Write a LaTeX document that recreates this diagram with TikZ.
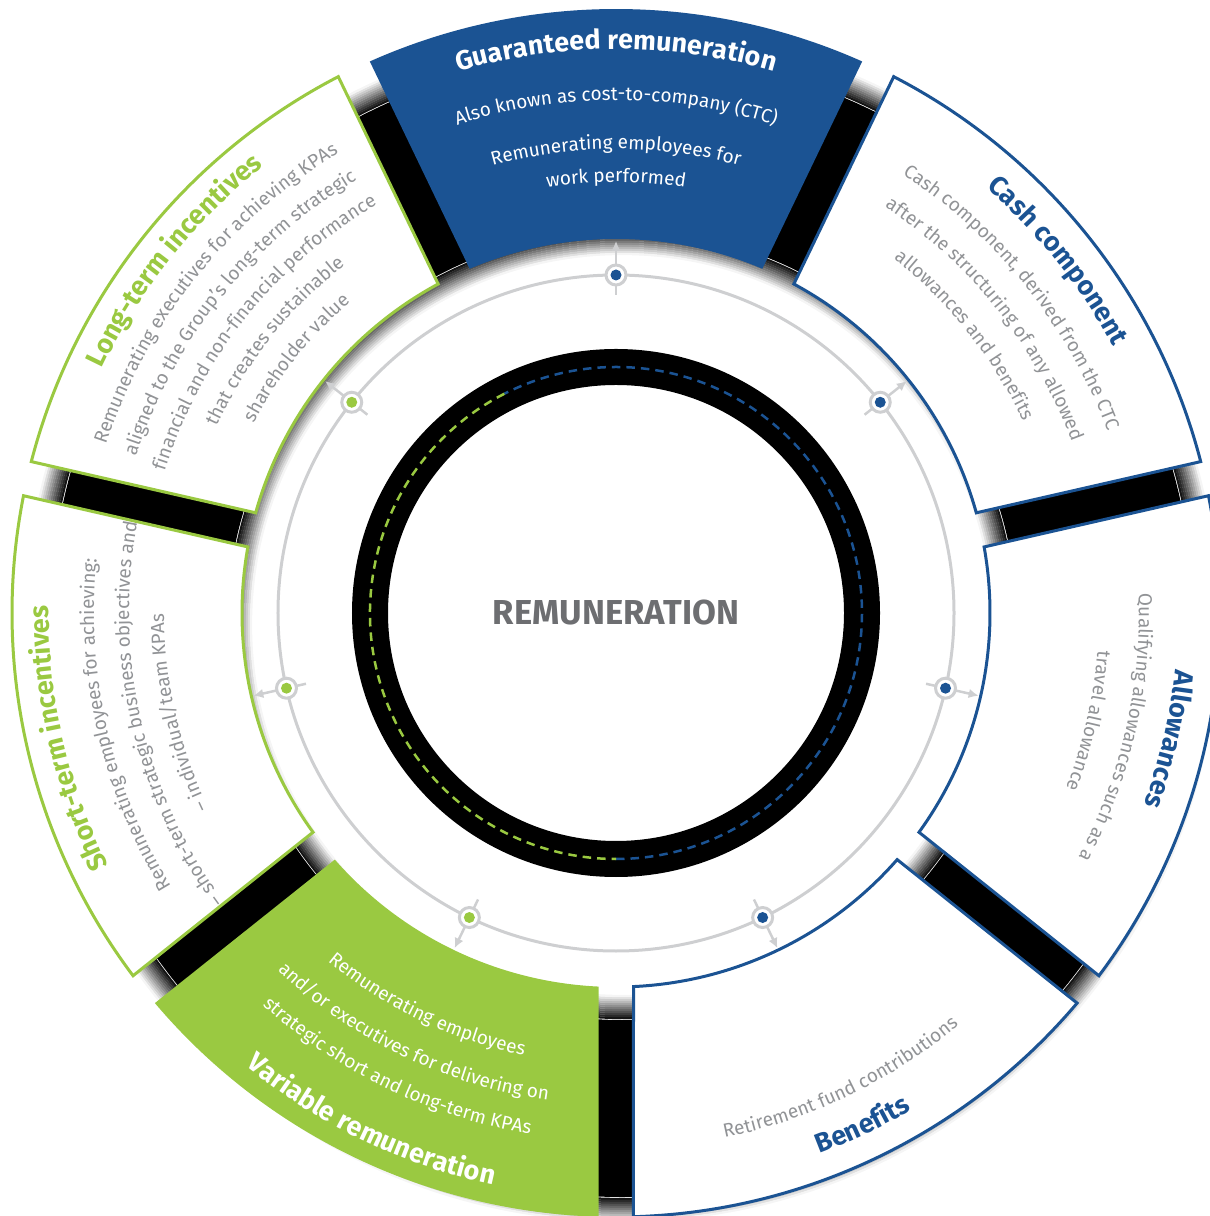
\documentclass[tikz,border=0pt]{standalone}
\usepackage{fontspec}
\setmainfont{Fira Sans}
\IfFontExistsTF{FiraSans-Light.otf}{\newfontfamily\lightfam{FiraSans-Light.otf}}{\newfontfamily\lightfam{Fira Sans}}
\usetikzlibrary{decorations.text, arrows.meta}

\definecolor{remblue}{RGB}{27,83,147}
\definecolor{remgreen}{RGB}{154,201,65}
\definecolor{remgray}{RGB}{145,147,150}
\definecolor{ringgray}{RGB}{206,207,209}
\definecolor{hubgray}{RGB}{109,110,113}

% text formats for the curved lines
\newcommand\wtitle{\fontsize{15.3pt}{18pt}\selectfont\bfseries\color{white}}
\newcommand\wbody{\fontsize{10.8pt}{13pt}\selectfont\color{white}}
\newcommand\btitle{\fontsize{15.3pt}{18pt}\selectfont\bfseries\color{remblue}}
\newcommand\gtitle{\fontsize{15.3pt}{18pt}\selectfont\bfseries\color{remgreen}}
\newcommand\gbody{\lightfam\fontsize{10.8pt}{13pt}\selectfont\color{remgray}}

% text on an arc: centre angle, radius, format, text
\newcommand\cwline[4]{\path[decorate, decoration={text along path, text align=center, text={|#3|#4}}] ({#1+30}:#2) arc[start angle={#1+30}, end angle={#1-30}, radius=#2];}
\newcommand\ccwline[4]{\path[decorate, decoration={text along path, text align=center, text={|#3|#4}}] ({#1-30}:#2) arc[start angle={#1-30}, end angle={#1+30}, radius=#2];}

\tikzset{
  wedge/.style={insert path={({#1+24.054}:604) arc[start angle={#1+24.054}, end angle={#1-24.054}, radius=604] -- ({#1-23.032}:374) arc[start angle={#1-23.032}, end angle={#1+23.032}, radius=374] -- cycle}},
  wedgeline/.style={line width=0.6mm, fill=white},
  marker/.style={circle, draw=ringgray, fill=white, line width=0.6mm, minimum size=4mm, inner sep=0pt},
  markdot/.style={circle, fill=#1, minimum size=2.2mm, inner sep=0pt},
  markarrow/.style={draw=ringgray, line width=0.5mm, -{Latex[length=2mm, width=1.9mm]}},
  hubdash/.style={line width=0.5mm, dash pattern=on 1.7mm off 1.2mm},
  hubtext/.style={font=\fontsize{19.7pt}{21pt}\selectfont\bfseries, text=hubgray},
}

\begin{document}
\begin{tikzpicture}[x=0.2mm, y=0.2mm]
\useasboundingbox (-616,-603) rectangle (593,613);

% shadow showing between the wedges
\draw[line width=35.4mm] (6,-12) circle[radius=483.5];
\foreach \i in {1,...,12} {
  \pgfmathsetmacro\shadepct{100-\i*8}
  \draw[black!\shadepct, line width=0.45mm] (6,-12) circle[radius=395-2*\i];
  \draw[black!\shadepct, line width=0.45mm] (6,-12) circle[radius=572+2*\i];
}

% guide circle and markers
\draw[ringgray, line width=0.6mm] (0,0) circle[radius=338];
\foreach \ang/\col [count=\k] in {90/remblue, 38.571/remblue, -12.857/remblue, -64.286/remblue, -115.714/remgreen, -167.143/remgreen, 141.429/remgreen} {
  \coordinate (tail\k) at (\ang:318);
  \coordinate (tip\k) at (\ang:372);
  \draw[markarrow] (tail\k) -- (tip\k);
  \node[marker] (mark\k) at (\ang:338) {};
  \node[markdot=\col] (dot\k) at (mark\k) {};
}

% hub
\draw[line width=7.2mm] (0,0) circle[radius=246];
\draw[remblue, hubdash] (-90:246) arc[start angle=-90, end angle=117, radius=246];
\draw[remgreen, hubdash] (117:246) arc[start angle=117, end angle=270, radius=246];
\node[hubtext] (hub) at (0,0) {REMUNERATION};

% wedges
\fill[remblue, wedge=90];
\draw[remblue, wedgeline, wedge=38.571];
\draw[remblue, wedgeline, wedge=-12.857];
\draw[remblue, wedgeline, wedge=-64.286];
\fill[remgreen, wedge=-115.714];
\draw[remgreen, wedgeline, wedge=-167.143];
\draw[remgreen, wedgeline, wedge=141.429];

% guaranteed remuneration
\cwline{90}{564}{\wtitle}{Guaranteed remuneration}
\cwline{90}{513}{\wbody}{Also known as cost-to-company (CTC)}
\cwline{90}{464}{\wbody}{Remunerating employees for}
\cwline{90}{431}{\wbody}{work performed}

% cash component
\cwline{38.571}{564}{\btitle}{Cash component}
\cwline{38.571}{524}{\gbody}{Cash component, derived from the CTC}
\cwline{38.571}{487}{\gbody}{after the structuring of any allowed}
\cwline{38.571}{450}{\gbody}{allowances and benefits}

% allowances
\cwline{-12.857}{562}{\btitle}{Allowances}
\cwline{-12.857}{523}{\gbody}{Qualifying allowances such as a}
\cwline{-12.857}{483}{\gbody}{travel allowance}

% benefits
\ccwline{-64.286}{536}{\gbody}{Retirement fund contributions}
\ccwline{-64.286}{578}{\btitle}{Benefits}

% variable remuneration
\ccwline{-115.714}{452}{\wbody}{Remunerating employees}
\ccwline{-115.714}{492}{\wbody}{and/or executives for delivering on}
\ccwline{-115.714}{528}{\wbody}{strategic short and long-term KPAs}
\ccwline{-115.714}{585}{\wtitle}{Variable remuneration}

% short-term incentives
\cwline{192.857}{567}{\gtitle}{Short-term incentives}
\cwline{192.857}{522}{\gbody}{Remunerating employees for achieving:}
\cwline{192.857}{487}{\gbody}{– short-term strategic business objectives and}
\cwline{192.857}{452}{\gbody}{– individual/team KPAs}

% long-term incentives
\cwline{141.429}{569}{\gtitle}{Long-term incentives}
\cwline{141.429}{537}{\gbody}{Remunerating executives for achieving KPAs}
\cwline{141.429}{505}{\gbody}{aligned to the Group’s long-term strategic}
\cwline{141.429}{473}{\gbody}{financial and non-financial performance}
\cwline{141.429}{441}{\gbody}{that creates sustainable}
\cwline{141.429}{409}{\gbody}{shareholder value}
\end{tikzpicture}
\end{document}
